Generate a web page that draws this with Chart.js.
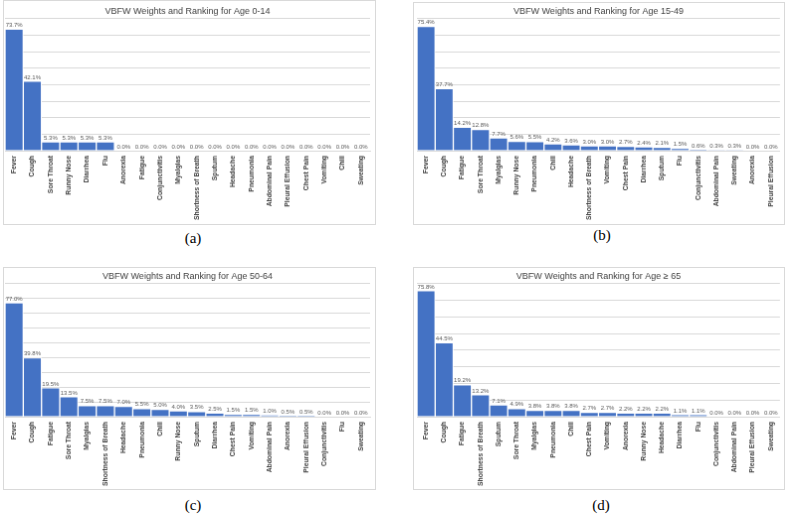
<!DOCTYPE html>
<html>
<head>
<meta charset="utf-8">
<script src="https://cdn.jsdelivr.net/npm/chart.js@4"></script>
<style>
  body { margin: 0; background: #fff; width: 791px; height: 515px; position: relative; overflow: hidden; }
  canvas { position: absolute; border: 1px solid #d9d9d9; }
  .cap { position: absolute; font-family: "Liberation Serif", serif; font-size: 15px; color: #000; transform: translate(-50%, -50%); }
</style>
</head>
<body>
<canvas id="chartA" width="373" height="225" style="left:3px;top:0px"></canvas>
<canvas id="chartB" width="372" height="223" style="left:413px;top:2px"></canvas>
<canvas id="chartC" width="373" height="223" style="left:3px;top:267px"></canvas>
<canvas id="chartD" width="372" height="223" style="left:413px;top:267px"></canvas>
<div class="cap" style="left:193px;top:238px">(a)</div>
<div class="cap" style="left:602px;top:235px">(b)</div>
<div class="cap" style="left:193px;top:505px">(c)</div>
<div class="cap" style="left:601px;top:505px">(d)</div>
<script>
// Age 0-14
const catsA = ["Fever", "Cough", "Sore Throat", "Runny Nose", "Diarrhea", "Flu", "Anorexia", "Fatigue",
  "Conjunctivitis", "Myalgias", "Shortness of Breath", "Sputum", "Headache", "Pneumonia",
  "Abdominal Pain", "Pleural Effusion", "Chest Pain", "Vomiting", "Chill", "Sweating"];
const valsA = [73.7, 42.1, 5.3, 5.3, 5.3, 5.3, 0, 0, 0, 0, 0, 0, 0, 0, 0, 0, 0, 0, 0, 0];

// Age 15-49
const catsB = ["Fever", "Cough", "Fatigue", "Sore Throat", "Myalgias", "Runny Nose", "Pneumonia", "Chill",
  "Headache", "Shortness of Breath", "Vomiting", "Chest Pain", "Diarrhea", "Sputum", "Flu",
  "Conjunctivitis", "Abdominal Pain", "Sweating", "Anorexia", "Pleural Effusion"];
const valsB = [75.4, 37.7, 14.2, 12.8, 7.7, 5.6, 5.5, 4.2, 3.6, 3.0, 3.0, 2.7, 2.4, 2.1, 1.5, 0.6, 0.3, 0.3, 0, 0];

// Age 50-64
const catsC = ["Fever", "Cough", "Fatigue", "Sore Throat", "Myalgias", "Shortness of Breath", "Headache",
  "Pneumonia", "Chill", "Runny Nose", "Sputum", "Diarrhea", "Chest Pain", "Vomiting", "Abdominal Pain",
  "Anorexia", "Pleural Effusion", "Conjunctivitis", "Flu", "Sweating"];
const valsC = [77.0, 39.8, 19.5, 13.5, 7.5, 7.5, 7.0, 5.5, 5.0, 4.0, 3.5, 2.5, 1.5, 1.5, 1.0, 0.5, 0.5, 0, 0, 0];

// Age >= 65
const catsD = ["Fever", "Cough", "Fatigue", "Shortness of Breath", "Sputum", "Sore Throat", "Myalgias",
  "Pneumonia", "Chill", "Chest Pain", "Vomiting", "Anorexia", "Runny Nose", "Headache", "Diarrhea", "Flu",
  "Conjunctivitis", "Abdominal Pain", "Pleural Effusion", "Sweating"];
const valsD = [75.8, 44.5, 19.2, 13.2, 7.1, 4.9, 3.8, 3.8, 3.8, 2.7, 2.7, 2.2, 2.2, 2.2, 1.1, 1.1, 0, 0, 0, 0];

const valueLabels = {
  id: "valueLabels",
  afterDatasetsDraw(chart) {
    const ctx = chart.ctx;
    const data = chart.data.datasets[0].data;
    ctx.save();
    ctx.font = '6px "Liberation Sans"';
    ctx.fillStyle = "#595959";
    ctx.textAlign = "center";
    ctx.textBaseline = "bottom";
    chart.getDatasetMeta(0).data.forEach((bar, i) => {
      ctx.fillText(data[i].toFixed(1) + "%", bar.x, bar.y - 1);
    });
    ctx.restore();
  }
};

function makeChart(id, title, labels, values, o) {
  const el = document.getElementById(id);
  return new Chart(el, {
    type: "bar",
    data: {
      labels,
      datasets: [{
        data: values,
        backgroundColor: "#4472c4",
        borderColor: "#ffffff",
        borderWidth: 1,
        barPercentage: 1,
        categoryPercentage: 1
      }]
    },
    options: {
      responsive: false,
      animation: false,
      layout: { padding: { left: o.left, right: o.right, top: 0, bottom: 0 } },
      plugins: {
        legend: { display: false },
        tooltip: { enabled: false },
        title: {
          display: true,
          text: title,
          color: "#404040",
          font: { family: "Liberation Sans", size: 9, weight: "normal", lineHeight: 1.2 },
          padding: { top: o.titleTop, bottom: 2 }
        }
      },
      scales: {
        x: {
          grid: { display: false, drawTicks: false },
          border: { color: "#d9d9d9" },
          ticks: {
            autoSkip: false, maxRotation: 90, minRotation: 90, padding: 5,
            color: "#404040",
            font: { family: "Liberation Sans", size: 6.8, weight: "bold" }
          },
          afterFit(s) { s.height = o.xh; }
        },
        y: {
          min: 0, max: o.ymax,
          grid: { color: "#d9d9d9", drawTicks: false },
          border: { display: false },
          ticks: { display: false, stepSize: 10 },
          afterFit(s) { s.width = 0; }
        }
      }
    },
    plugins: [valueLabels]
  });
}

makeChart("chartA", "VBFW Weights and Ranking for Age 0-14", catsA, valsA,
  { left: 1, right: 5, titleTop: 5, xh: 74, ymax: 80 });
makeChart("chartB", "VBFW Weights and Ranking for Age 15-49", catsB, valsB,
  { left: 3, right: 4, titleTop: 3, xh: 74, ymax: 80 });
makeChart("chartC", "VBFW Weights and Ranking for Age 50-64", catsC, valsC,
  { left: 1, right: 5, titleTop: 3, xh: 73, ymax: 90 });
makeChart("chartD", "VBFW Weights and Ranking for Age \u2265 65", catsD, valsD,
  { left: 3, right: 4, titleTop: 3, xh: 73, ymax: 80 });
</script>
</body>
</html>
